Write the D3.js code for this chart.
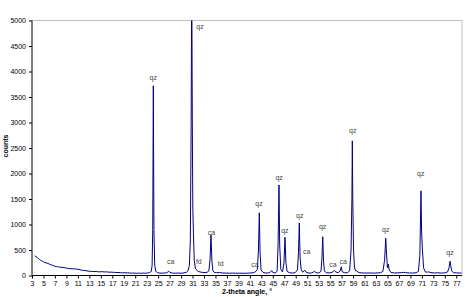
<!DOCTYPE html>
<html>
<head>
<meta charset="utf-8">
<script src="https://cdn.jsdelivr.net/npm/d3@7/dist/d3.min.js"></script>
<style>
  body { margin: 0; background: #fff; }
  svg text { font-family: "Liberation Sans", Arial, sans-serif; }
</style>
</head>
<body>
<div id="chart"></div>
<script>
// scan: [2-theta, counts]
var scan = [
  [3.5,390],[3.7,365],[3.9,355],[4.1,330],[4.3,315],[4.5,300],[4.8,280],[5.0,270],[5.3,250],[5.6,245],
  [6.0,225],[6.3,210],[6.6,200],[7.0,180],[7.3,175],[7.6,170],[8.0,160],[8.4,160],[8.8,150],[9.2,140],
  [9.6,135],[10.0,130],[10.4,130],[10.8,125],[11.2,120],[11.6,105],[12.0,100],[12.4,95],[12.8,85],[13.2,82],
  [13.6,78],[14.0,80],[14.4,75],[14.8,72],[15.2,75],[15.6,70],[16.0,72],[16.4,65],[16.8,66],[17.2,62],
  [17.6,60],[18.0,58],[18.4,56],[18.8,52],[19.2,55],[19.6,50],[20.0,50],[20.4,46],[20.8,48],[21.2,44],
  [21.6,46],[22.0,43],[22.4,48],[22.8,44],[23.2,50],[23.5,60],[23.8,80],[23.95,200],[24.06,900],[24.16,3720],
  [24.27,900],[24.4,200],[24.6,80],[24.9,55],[25.3,48],[25.7,45],[26.1,50],[26.5,52],[26.85,85],[27.05,60],
  [27.5,48],[28.0,44],[28.5,48],[29.0,44],[29.5,52],[29.9,60],[30.2,90],[30.45,200],[30.62,700],[30.76,3000],
  [30.86,6000],[30.96,3010],[31.05,1320],[31.15,850],[31.3,300],[31.5,140],[31.8,95],[32.1,75],[32.5,65],[33.0,58],
  [33.5,60],[33.85,90],[34.05,300],[34.22,795],[34.38,280],[34.55,90],[34.8,62],[35.2,55],[35.7,58],[36.2,50],
  [36.8,48],[37.4,45],[38.0,47],[38.6,44],[39.2,46],[39.8,43],[40.4,45],[41.0,48],[41.6,55],[41.95,70],
  [42.3,120],[42.5,500],[42.65,1230],[42.78,450],[42.95,110],[43.3,60],[43.8,48],[44.3,50],[44.6,70],[44.81,95],
  [45.0,60],[45.4,48],[45.75,80],[45.92,600],[46.08,1775],[46.2,600],[46.4,120],[46.7,70],[46.95,250],[47.13,750],
  [47.28,260],[47.5,80],[47.9,55],[48.4,48],[48.9,55],[49.3,110],[49.48,450],[49.62,1030],[49.76,350],[49.95,110],
  [50.2,65],[50.45,90],[50.6,100],[50.85,60],[51.3,48],[51.8,50],[52.1,70],[52.3,82],[52.55,55],[53.0,50],
  [53.4,80],[53.58,350],[53.71,760],[53.84,300],[54.0,90],[54.3,55],[54.8,50],[55.3,60],[55.6,85],[55.75,95],
  [56.0,70],[56.4,55],[56.75,90],[56.95,170],[57.1,75],[57.5,55],[58.0,55],[58.4,90],[58.65,500],[58.8,1500],
  [58.87,2640],[58.95,1500],[59.08,500],[59.25,150],[59.45,90],[59.6,95],[59.8,70],[60.2,52],[60.8,50],[61.4,48],
  [62.0,50],[62.6,46],[63.2,50],[63.8,55],[64.2,80],[64.5,300],[64.7,730],[64.85,400],[65.0,150],[65.15,225],
  [65.3,110],[65.6,60],[66.2,50],[66.8,52],[67.4,55],[67.8,62],[68.2,55],[68.8,50],[69.4,48],[70.0,55],
  [70.4,80],[70.65,400],[70.85,1660],[70.95,870],[71.1,500],[71.3,150],[71.6,70],[72.0,65],[72.2,72],[72.6,55],
  [73.2,50],[73.8,52],[74.4,48],[75.0,52],[75.5,70],[75.75,160],[75.92,280],[76.02,200],[76.2,90],[76.5,55],
  [77.0,52],[77.5,48],[77.9,50]
];

// peak labels: [2-theta, counts at label centre, phase]
var peakLabels = [
  [24.16,3890,"qz"],[32.3,4890,"qz"],[27.2,265,"ca"],[32.1,265,"fd"],[34.3,840,"ca"],[35.9,225,"td"],
  [41.9,205,"ca"],[42.6,1420,"qz"],[46.1,1930,"qz"],[47.1,880,"qz"],[49.7,1170,"qz"],[50.9,460,"ca"],
  [53.7,955,"qz"],[55.5,210,"ca"],[57.3,265,"ca"],[58.95,2840,"qz"],[64.7,910,"qz"],[70.8,1990,"qz"],
  [75.9,455,"qz"]
];

var xTicks = d3.range(3, 78, 2);
var yTicks = [0, 500, 1000, 1500, 2000, 2500, 3000, 3500, 4000, 4500, 5000];

var width = 465, height = 297;
var plotLeft = 32, plotRight = 462, plotTop = 20.5, plotBottom = 275.5;

var svg = d3.select("#chart").append("svg")
  .attr("width", width)
  .attr("height", height);

var x = d3.scaleLinear().domain([3, 78]).range([plotLeft, plotRight]);
var y = d3.scaleLinear().domain([0, 5000]).range([plotBottom, plotTop]);

// plot border (top and right, grey)
svg.append("path")
  .attr("d", "M" + plotLeft + "," + plotTop + "H" + plotRight + "V" + plotBottom)
  .attr("fill", "none")
  .attr("stroke", "#c0c0c0")
  .attr("stroke-width", 1);

svg.append("clipPath").attr("id", "clip")
  .append("rect")
  .attr("x", plotLeft).attr("y", plotTop)
  .attr("width", plotRight - plotLeft).attr("height", plotBottom - plotTop);

var line = d3.line()
  .x(function(d) { return x(d[0]); })
  .y(function(d) { return y(d[1]); });

svg.append("path")
  .datum(scan)
  .attr("clip-path", "url(#clip)")
  .attr("d", line)
  .attr("fill", "none")
  .attr("stroke", "#000080")
  .attr("stroke-width", 1)
  .attr("stroke-linejoin", "round");

// peak labels
svg.selectAll("text.lbl")
  .data(peakLabels)
  .enter()
  .append("text")
  .attr("class", "lbl")
  .attr("x", function(d) { return x(d[0]); })
  .attr("y", function(d) { return y(d[1]); })
  .attr("dy", "0.35em")
  .attr("text-anchor", "middle")
  .attr("font-size", "7px")
  .attr("fill", "#444")
  .text(function(d) { return d[2]; });

// axes
var xAxis = d3.axisBottom(x).tickValues(xTicks).tickSize(3).tickPadding(3).tickFormat(d3.format("d"));
var yAxis = d3.axisLeft(y).tickValues(yTicks).tickSize(3).tickPadding(3).tickFormat(d3.format("d"));

var gx = svg.append("g")
  .attr("transform", "translate(0," + plotBottom + ")")
  .call(xAxis);
gx.select(".domain").attr("d", "M" + plotLeft + ",0H" + plotRight);

var gy = svg.append("g")
  .attr("transform", "translate(" + plotLeft + ",0)")
  .call(yAxis);
gy.select(".domain").attr("d", "M0," + plotBottom + "V" + plotTop);

svg.selectAll(".tick text").attr("font-size", "7px").attr("fill", "#000");
svg.selectAll(".domain, .tick line").attr("stroke", "#000");

// axis titles
svg.append("text")
  .attr("x", (plotLeft + plotRight) / 2)
  .attr("y", 294)
  .attr("text-anchor", "middle")
  .attr("font-size", "7px")
  .attr("font-weight", "bold")
  .text("2-theta angle, °");

svg.append("text")
  .attr("transform", "translate(8,146) rotate(-90)")
  .attr("text-anchor", "middle")
  .attr("font-size", "7px")
  .attr("font-weight", "bold")
  .text("counts");
</script>
</body>
</html>
